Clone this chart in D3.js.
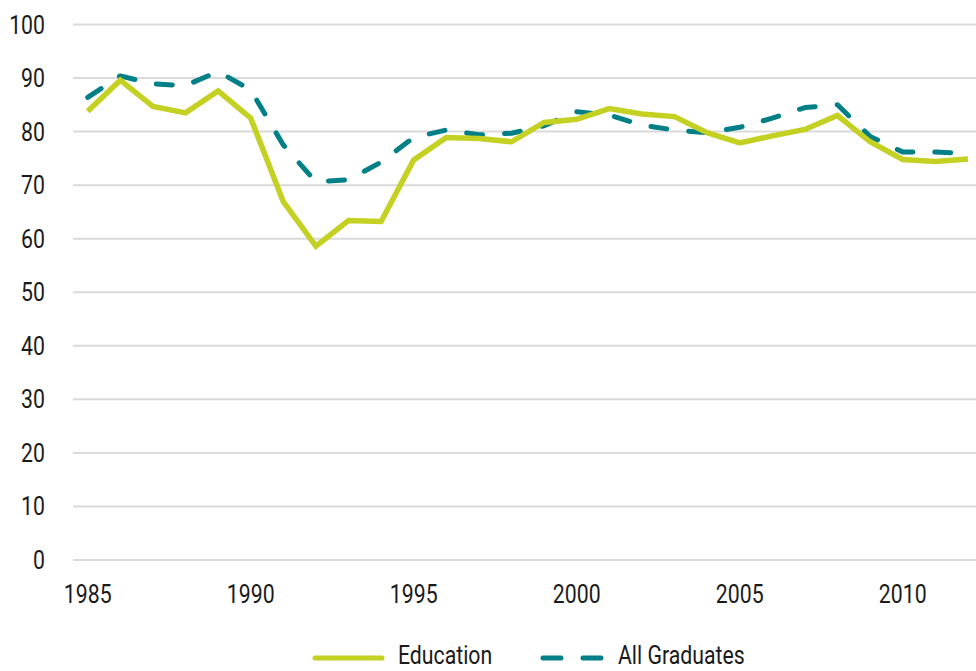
<!DOCTYPE html>
<html>
<head>
<meta charset="utf-8">
<script src="https://cdn.jsdelivr.net/npm/d3@7"></script>
<style>
  body { margin: 0; background: #fff; }
  svg { display: block; font-family: Roboto, "Liberation Sans", sans-serif; }
</style>
</head>
<body>
<div id="chart"></div>
<script>
const width = 976;
const height = 671;

const years = d3.range(1985, 2013);
const education = [83.8, 89.6, 84.7, 83.5, 87.6, 82.5, 66.9, 58.6, 63.4, 63.2,
  74.7, 78.9, 78.7, 78.1, 81.7, 82.3, 84.3, 83.3, 82.8, 79.8,
  77.9, 79.2, 80.4, 83.0, 78.1, 74.8, 74.4, 74.9];
const allGraduates = [86.4, 90.4, 88.9, 88.6, 91.2, 87.8, 77.5, 70.6, 71.0, 74.3,
  78.9, 80.3, 79.4, 79.7, 81.1, 83.7, 83.1, 81.2, 80.3, 79.8,
  80.8, 82.5, 84.5, 85.0, 79.1, 76.2, 76.2, 75.9];
const yTicks = [0, 10, 20, 30, 40, 50, 60, 70, 80, 90, 100];
const xTicks = [1985, 1990, 1995, 2000, 2005, 2010];

const colors = {
  education: "#c4d022",
  all: "#007f87",
};

// condensed look: wider font squeezed horizontally
const squeeze = 0.85;
const fontSize = 25;

const x = d3.scaleLinear().domain([1985, 2012]).range([87.7, 967.9]);
const y = d3.scaleLinear().domain([0, 100]).range([560, 24.5]);

const svg = d3
  .select("#chart")
  .append("svg")
  .attr("width", width)
  .attr("height", height);

// gridlines
svg
  .append("g")
  .selectAll("line")
  .data(yTicks)
  .enter()
  .append("line")
  .attr("x1", 73)
  .attr("x2", width)
  .attr("y1", (d) => y(d))
  .attr("y2", (d) => y(d))
  .attr("stroke", "#dadada")
  .attr("stroke-width", 2);

const label = (sel, tx, ty) =>
  sel
    .attr("transform", (d) => `translate(${tx(d)},${ty(d)}) scale(${squeeze},1)`)
    .attr("font-size", fontSize)
    .attr("fill", "#1a1a1a");

// y labels
svg
  .append("g")
  .selectAll("text")
  .data(yTicks)
  .enter()
  .append("text")
  .call(label, () => 45, (d) => y(d))
  .attr("dy", "0.36em")
  .attr("text-anchor", "end")
  .text((d) => d);

// x labels
svg
  .append("g")
  .selectAll("text")
  .data(xTicks)
  .enter()
  .append("text")
  .call(label, (d) => x(d), () => 603)
  .attr("text-anchor", "middle")
  .text((d) => d);

const line = (values) =>
  d3
    .line()
    .x((d, i) => x(years[i]))
    .y((d) => y(d))(values);

svg
  .append("path")
  .attr("d", line(allGraduates))
  .attr("fill", "none")
  .attr("stroke", colors.all)
  .attr("stroke-width", 5)
  .attr("stroke-linecap", "round")
  .attr("stroke-linejoin", "round")
  .attr("stroke-dasharray", "16 22");

svg
  .append("path")
  .attr("d", line(education))
  .attr("fill", "none")
  .attr("stroke", colors.education)
  .attr("stroke-width", 5.5)
  .attr("stroke-linejoin", "miter");

// legend
const legend = svg.append("g");
legend
  .append("line")
  .attr("x1", 315)
  .attr("x2", 382)
  .attr("y1", 658)
  .attr("y2", 658)
  .attr("stroke", colors.education)
  .attr("stroke-width", 5)
  .attr("stroke-linecap", "round");
legend
  .append("text")
  .datum("Education")
  .call(label, () => 398, () => 664)
  .text((d) => d);
legend
  .append("line")
  .attr("x1", 543)
  .attr("x2", 603)
  .attr("y1", 658)
  .attr("y2", 658)
  .attr("stroke", colors.all)
  .attr("stroke-width", 5)
  .attr("stroke-linecap", "round")
  .attr("stroke-dasharray", "18 22");
legend
  .append("text")
  .datum("All Graduates")
  .call(label, () => 618, () => 664)
  .text((d) => d);
</script>
</body>
</html>
